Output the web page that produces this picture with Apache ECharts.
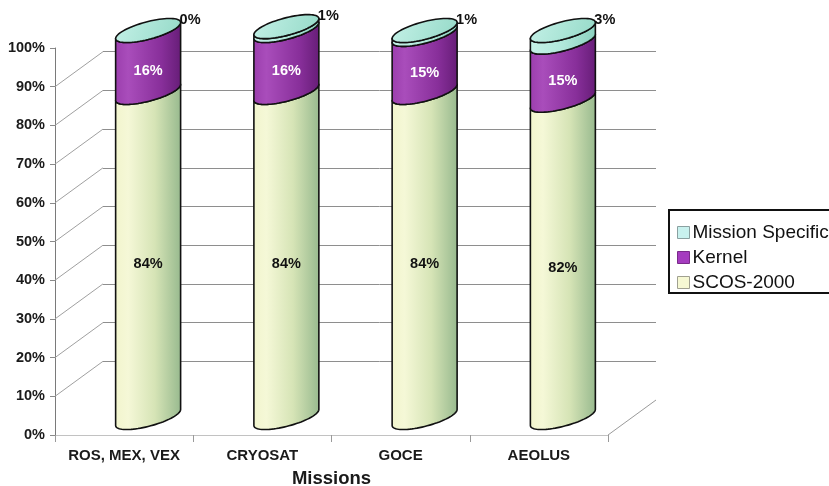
<!DOCTYPE html>
<html>
<head>
<meta charset="utf-8">
<script src="https://cdn.jsdelivr.net/npm/echarts@6/dist/echarts.min.js"></script>
<style>
  html, body { margin: 0; padding: 0; background: #ffffff; }
  #chart { width: 829px; height: 486px; }
</style>
</head>
<body>
<div id="chart"></div>
<script>
// ---- data -------------------------------------------------------------
const missions = ['ROS, MEX, VEX', 'CRYOSAT', 'GOCE', 'AEOLUS'];
const scos2000 = [84, 84, 84, 82];
const kernel = [16, 16, 15, 15];
const missionSpecific = [0, 1, 1, 3];
const wallTicks = [10, 20, 30, 40, 50, 60, 70, 80, 90];

// ---- 3D frame ---------------------------------------------------------
const FONT = '"Liberation Sans", Arial, Helvetica, sans-serif';
const FRONT = { left: 55, top: 48, right: 221, bottom: 51 };
const DEPTH = [48, 35];            // back wall offset (right, up)
const ELLIPSE_B = 9;               // cylinder cap half-height
const ELLIPSE_TILT = 8;            // cap tilt (right end higher)
const BAR_RATIO = 0.235;           // cylinder radius relative to band
const OUTLINE = 1.6;

function shifted(k) {
  return {
    left: FRONT.left + DEPTH[0] * k,
    right: FRONT.right - DEPTH[0] * k,
    top: FRONT.top - DEPTH[1] * k,
    bottom: FRONT.bottom + DEPTH[1] * k,
    containLabel: false,
    outerBoundsMode: 'none'
  };
}

function grad(stops, x2, y2) {
  return new echarts.graphic.LinearGradient(0, 0, x2 === undefined ? 1 : x2, y2 || 0,
    stops.map(function (c) { return { offset: c[0], color: c[1] }; }));
}

const FILLS = {
  scos: function () { return grad([[0, '#f2f5cd'], [0.2, '#f5f8d7'], [0.6, '#d6e4b6'], [1, '#97b98e']]); },
  kernel: function () { return grad([[0, '#9b3ead'], [0.2, '#a94dbb'], [0.7, '#882f9a'], [1, '#661d77']]); },
  mission: function () { return grad([[0, '#c6f2e8'], [0.5, '#b0e8da'], [1, '#8bd1bf']]); },
  cap: function () { return grad([[0, '#c4f1e7'], [1, '#94d9c7']], 1, 1); }
};

// point on the outline of a tilted cap ellipse
function capPoint(cx, cy, a, t) {
  return [cx + a * Math.cos(t), cy + ELLIPSE_B * Math.sin(t) - ELLIPSE_TILT * Math.cos(t)];
}

function sidePoints(cx, yBottom, yTop, a) {
  const pts = [];
  const n = 40;
  // bottom front arc, left -> right
  for (let k = 0; k <= n; k++) {
    pts.push(capPoint(cx, yBottom, a, Math.PI - Math.PI * k / n));
  }
  // top front arc, right -> left
  for (let k = 0; k <= n; k++) {
    pts.push(capPoint(cx, yTop, a, Math.PI * k / n));
  }
  return pts;
}

function capPoints(cx, cy, a) {
  const pts = [];
  const n = 72;
  for (let k = 0; k < n; k++) pts.push(capPoint(cx, cy, a, 2 * Math.PI * k / n));
  return pts;
}

function textEl(text, x, y, color, align) {
  return {
    type: 'text',
    z2: 20,
    style: {
      text: text, x: x, y: y, fill: color,
      fontSize: 14.5, fontWeight: 'bold', fontFamily: FONT,
      align: align || 'center', verticalAlign: 'middle'
    }
  };
}

function cylinderSeries(name, bases, values, fillKey, flatColor, labelMode, isTop) {
  return {
    name: name,
    type: 'custom',
    xAxisIndex: 2,
    yAxisIndex: 2,
    itemStyle: { color: flatColor },
    encode: { x: 0, y: [1, 2] },
    data: values.map(function (v, i) { return [i, bases[i], v]; }),
    renderItem: function (params, api) {
      const i = api.value(0);
      const base = api.value(1);
      const v = api.value(2);
      const pb = api.coord([i, base]);
      const pt = api.coord([i, base + v]);
      const a = api.size([1, 0])[0] * BAR_RATIO;
      const cx = pb[0];
      const children = [];
      if (v > 0) {
        children.push({
          type: 'polygon',
          shape: { points: sidePoints(cx, pb[1], pt[1], a) },
          style: { fill: FILLS[fillKey](), stroke: '#111', lineWidth: OUTLINE, lineJoin: 'round' }
        });
      }
      if (isTop) {
        children.push({
          type: 'polygon',
          shape: { points: capPoints(cx, pt[1], a) },
          style: { fill: FILLS.cap(), stroke: '#111', lineWidth: OUTLINE }
        });
      }
      const label = v + '%';
      if (labelMode === 'dark') {
        children.push(textEl(label, cx, (pb[1] + pt[1]) / 2 + 9, '#111'));
      } else if (labelMode === 'light') {
        children.push(textEl(label, cx, (pb[1] + pt[1]) / 2 + 10, '#ffffff'));
      } else if (labelMode === 'corner') {
        children.push(textEl(label, cx + a - 1, pt[1] - ELLIPSE_TILT - 3, '#111', 'left'));
      }
      return { type: 'group', children: children };
    }
  };
}

const kernelBase = scos2000.slice();
const missionBase = scos2000.map(function (v, i) { return v + kernel[i]; });
const zeros = scos2000.map(function () { return 0; });

const chart = echarts.init(document.getElementById('chart'), null, { renderer: 'canvas' });

const option = {
  animation: false,
  backgroundColor: '#ffffff',
  textStyle: { fontFamily: FONT },
  grid: [shifted(0), shifted(1), shifted(0.5)],
  legend: {
    orient: 'vertical',
    left: 669,
    top: 210,
    padding: [13, 40, 1, 8],
    borderColor: '#111',
    borderWidth: 2,
    backgroundColor: '#ffffff',
    itemWidth: 12,
    itemHeight: 12,
    itemGap: 6,
    icon: 'rect',
    textStyle: { fontSize: 19, color: '#111', fontFamily: FONT, padding: [0, 0, 0, -2] },
    data: [
      { name: 'Mission Specific', itemStyle: { color: '#c8f1ee', borderColor: '#8aa0a0', borderWidth: 1 } },
      { name: 'Kernel', itemStyle: { color: '#a53cbf', borderColor: '#7a2a8a', borderWidth: 1 } },
      { name: 'SCOS-2000', itemStyle: { color: '#f6f8d3', borderColor: '#a0a090', borderWidth: 1 } }
    ]
  },
  xAxis: [
    {
      gridIndex: 0,
      type: 'category',
      data: missions,
      boundaryGap: true,
      axisLine: { show: true, lineStyle: { color: '#c2c2c2', width: 1 } },
      axisTick: { show: true, interval: 0, length: 7, lineStyle: { color: '#9a9a9a' } },
      axisLabel: { interval: 0, fontSize: 15, fontWeight: 'bold', color: '#1a1a1a', margin: 13, fontFamily: FONT },
      name: 'Missions',
      nameLocation: 'middle',
      nameGap: 34,
      nameTextStyle: { fontSize: 18.5, fontWeight: 'bold', color: '#1a1a1a', fontFamily: FONT }
    },
    { gridIndex: 1, type: 'category', data: missions, show: false },
    { gridIndex: 2, type: 'category', data: missions, show: false }
  ],
  yAxis: [
    {
      gridIndex: 0,
      type: 'value',
      min: 0, max: 100, interval: 10,
      axisLine: { show: true, lineStyle: { color: '#7a7a7a', width: 1 } },
      axisTick: { show: true, length: 5, lineStyle: { color: '#8a8a8a' } },
      axisLabel: { formatter: '{value}%', fontSize: 14.5, fontWeight: 'bold', color: '#1a1a1a', margin: 10, fontFamily: FONT },
      splitLine: { show: false }
    },
    {
      gridIndex: 1,
      type: 'value',
      min: 0, max: 100, interval: 10,
      axisLine: { show: false },
      axisTick: { show: false },
      axisLabel: { show: false },
      splitLine: { show: true, showMinLine: false, showMaxLine: false, lineStyle: { color: '#8e8e8e', width: 1 } }
    },
    { gridIndex: 2, type: 'value', min: 0, max: 100, show: false }
  ],
  series: [
    // side wall: slanted lines joining front ticks to the back gridlines
    {
      type: 'custom',
      name: 'wall',
      silent: true,
      xAxisIndex: 0,
      yAxisIndex: 0,
      encode: { x: 0, y: 1 },
      data: wallTicks.map(function (v) { return [0, v]; }),
      renderItem: function (params, api) {
        const y = api.coord([0, api.value(1)])[1];
        const x = params.coordSys.x;
        return {
          type: 'line',
          shape: { x1: x, y1: y, x2: x + DEPTH[0], y2: y - DEPTH[1] },
          style: { stroke: '#a0a0a0', lineWidth: 1 }
        };
      }
    },
    // floor: right-hand depth edge
    {
      type: 'custom',
      name: 'floor',
      silent: true,
      xAxisIndex: 0,
      yAxisIndex: 0,
      encode: { x: 0, y: 1 },
      data: [[0, 0]],
      renderItem: function (params, api) {
        const y = api.coord([0, 0])[1];
        const x = params.coordSys.x + params.coordSys.width;
        return {
          type: 'line',
          shape: { x1: x, y1: y, x2: x + DEPTH[0], y2: y - DEPTH[1] },
          style: { stroke: '#9a9a9a', lineWidth: 1 }
        };
      }
    },
    cylinderSeries('SCOS-2000', zeros, scos2000, 'scos', '#f6f8d3', 'dark', false),
    cylinderSeries('Kernel', kernelBase, kernel, 'kernel', '#a53cbf', 'light', false),
    cylinderSeries('Mission Specific', missionBase, missionSpecific, 'mission', '#c8f1ee', 'corner', true)
  ]
};

chart.setOption(option);
</script>
</body>
</html>
